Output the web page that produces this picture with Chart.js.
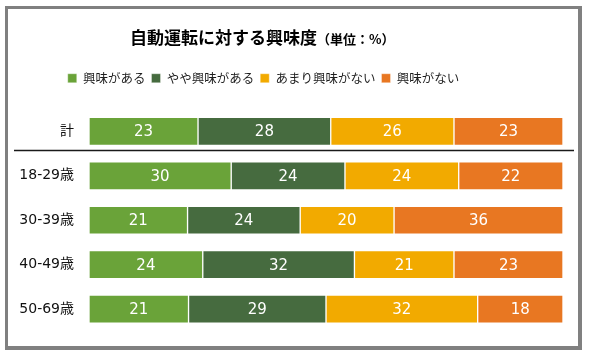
<!DOCTYPE html>
<html>
<head>
<meta charset="utf-8">
<script src="https://cdn.jsdelivr.net/npm/chart.js@4/dist/chart.umd.min.js"></script>
<style>
  html, body { margin: 0; padding: 0; background: #fff; }
  #wrap { position: relative; width: 589px; height: 357px; }
  #c { position: absolute; left: 0; top: 0; }
  #frame { position: absolute; left: 5px; top: 6px; width: 577px; height: 344px; box-sizing: border-box;
           border-style: solid; border-color: #808080; border-width: 3px 4px 4px 3px; pointer-events: none; }
  #title { position: absolute; left: 130px; top: 26px; font: bold 17px "Noto Sans CJK JP", sans-serif;
           line-height: 22px; color: #000; white-space: nowrap; }
  #title span { font-size: 13px; }
</style>
</head>
<body>
<div id="wrap">
  <canvas id="c" width="589" height="357"></canvas>
  <div id="frame"></div>
  <div id="title">自動運転に対する興味度<span>（単位：%）</span></div>
</div>
<script>
const categories = ['計', '18-29歳', '30-39歳', '40-49歳', '50-69歳'];
const seriesNames = ['興味がある', 'やや興味がある', 'あまり興味がない', '興味がない'];
const interested    = [23, 30, 21, 24, 21];
const somewhat      = [28, 24, 24, 32, 29];
const notVery       = [26, 24, 20, 21, 32];
const notInterested = [23, 22, 36, 23, 18];
const colors = ['#6aa339', '#466b3f', '#f2aa00', '#e87722'];

const raw = [interested, somewhat, notVery, notInterested];
const totals = categories.map((_, i) => raw.reduce((s, arr) => s + arr[i], 0));

const datasets = raw.map((arr, k) => ({
  label: seriesNames[k],
  data: arr.map((v, i) => v / totals[i] * 100),
  rawValues: arr,
  backgroundColor: colors[k],
  borderColor: 'rgba(255,255,255,0.35)',
  borderWidth: 1,
  borderSkipped: false,
  barThickness: 28
}));

const valueLabels = {
  id: 'valueLabels',
  afterDatasetsDraw(chart) {
    const ctx = chart.ctx;
    ctx.save();
    ctx.font = '15px "DejaVu Sans", sans-serif';
    ctx.fillStyle = '#ffffff';
    ctx.textAlign = 'center';
    ctx.textBaseline = 'middle';
    chart.data.datasets.forEach((ds, di) => {
      const meta = chart.getDatasetMeta(di);
      meta.data.forEach((bar, i) => {
        const cx = (bar.x + bar.base) / 2;
        ctx.fillText(String(ds.rawValues[i]), cx, bar.y + 1);
      });
    });
    ctx.restore();
  }
};

const separator = {
  id: 'separator',
  afterDraw(chart) {
    const y = chart.scales.y;
    const p0 = y.getPixelForValue(0), p1 = y.getPixelForValue(1);
    const ly = Math.round(p0 + (p1 - p0) * 0.42) + 0.5;
    const ctx = chart.ctx;
    ctx.save();
    ctx.strokeStyle = '#1a1a1a';
    ctx.lineWidth = 1.3;
    ctx.beginPath();
    ctx.moveTo(14, ly);
    ctx.lineTo(chart.width - 15, ly);
    ctx.stroke();
    ctx.restore();
  }
};

new Chart(document.getElementById('c'), {
  type: 'bar',
  data: { labels: categories, datasets },
  plugins: [valueLabels, separator],
  options: {
    indexAxis: 'y',
    responsive: false,
    animation: false,
    events: [],
    layout: { padding: { left: -36, right: 26, top: 66, bottom: 25.75 } },
    scales: {
      x: {
        stacked: true, min: 0, max: 100, position: 'top',
        ticks: { display: false },
        grid: { display: false, drawTicks: false },
        border: { display: false },
        afterFit(s) { s.height = 14.75; }
      },
      y: {
        stacked: true,
        grid: { display: false, drawTicks: false },
        border: { display: false },
        ticks: { padding: 15, color: '#111111', font: { size: 14, family: '"DejaVu Sans", "Noto Sans CJK JP", sans-serif' } },
        afterFit(s) { s.width = 125; }
      }
    },
    plugins: {
      legend: {
        position: 'top',
        align: 'center',
        labels: {
          boxWidth: 9, boxHeight: 9, padding: 6, color: '#1e1e1e',
          font: { size: 12.5, family: '"Noto Sans CJK JP", sans-serif' }
        }
      },
      tooltip: { enabled: false },
      title: { display: false }
    }
  }
});
</script>
</body>
</html>
